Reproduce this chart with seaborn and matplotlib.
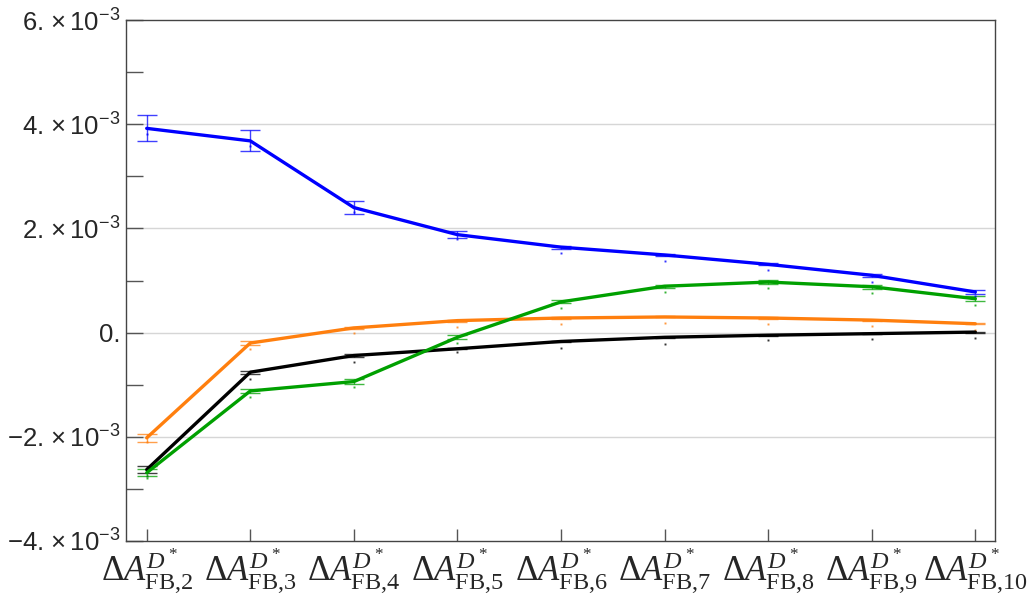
import matplotlib
matplotlib.use("Agg")
import matplotlib.pyplot as plt
import seaborn as sns
import pandas as pd
import numpy as np

# values in units of 1e-3
bins = [2, 3, 4, 5, 6, 7, 8, 9, 10]
series = ["black", "orange", "green", "blue"]

black = [-2.63, -0.76, -0.44, -0.31, -0.17, -0.09, -0.05, -0.02, 0.01]
orange = [-2.02, -0.20, 0.09, 0.23, 0.28, 0.30, 0.28, 0.24, 0.17]
green = [-2.69, -1.12, -0.94, -0.09, 0.59, 0.89, 0.97, 0.88, 0.65]
blue = [3.92, 3.68, 2.40, 1.88, 1.64, 1.49, 1.31, 1.10, 0.78]

black_err = [0.06, 0.03, 0.02, 0.01, 0.01, 0.01, 0.01, 0.01, 0.01]
orange_err = [0.08, 0.03, 0.02, 0.02, 0.01, 0.01, 0.01, 0.01, 0.01]
green_err = [0.07, 0.03, 0.04, 0.04, 0.03, 0.03, 0.04, 0.04, 0.05]
blue_err = [0.25, 0.20, 0.12, 0.07, 0.03, 0.02, 0.02, 0.03, 0.04]

# small companion points below each value
black_dot = [-2.75, -0.89, -0.56, -0.38, -0.30, -0.22, -0.15, -0.12, -0.10]
orange_dot = [-2.10, -0.31, -0.01, 0.11, 0.17, 0.19, 0.17, 0.13, 0.05]
green_dot = [-2.80, -1.24, -1.04, -0.20, 0.47, 0.78, 0.86, 0.76, 0.53]
blue_dot = [3.81, 3.58, 2.32, 1.80, 1.53, 1.38, 1.21, 0.97, 0.70]

y_ticks = [-4, -2, 0, 2, 4, 6]
y_tick_labels = [r"$\mathsf{-4.\times10^{-3}}$", r"$\mathsf{-2.\times10^{-3}}$", "0.",
                 r"$\mathsf{2.\times10^{-3}}$", r"$\mathsf{4.\times10^{-3}}$",
                 r"$\mathsf{6.\times10^{-3}}$"]
x_tick_labels = [r"$\Delta A^{D^*}_{\mathrm{FB{,}%d}}$" % b for b in bins]

colors = {"black": "#000000", "orange": "#FF7F0E", "green": "#00A000", "blue": "#0000FF"}
vals = {"black": black, "orange": orange, "green": green, "blue": blue}
errs = {"black": black_err, "orange": orange_err, "green": green_err, "blue": blue_err}
dots = {"black": black_dot, "orange": orange_dot, "green": green_dot, "blue": blue_dot}

rows = []
for s in series:
    for i, b in enumerate(bins):
        rows.append({"pos": i, "series": s, "value": vals[s][i] * 1e-3,
                     "err": errs[s][i] * 1e-3, "dot": dots[s][i] * 1e-3})
df = pd.DataFrame(rows)

sns.set_style("white")
plt.rcParams["font.family"] = ["Liberation Sans", "DejaVu Sans"]
plt.rcParams["mathtext.fontset"] = "custom"
plt.rcParams["mathtext.rm"] = "Liberation Serif"
plt.rcParams["mathtext.it"] = "Liberation Serif:italic"
plt.rcParams["mathtext.bf"] = "Liberation Serif:bold"
plt.rcParams["mathtext.sf"] = "Liberation Sans"

fig = plt.figure(figsize=(10.29, 6.01), dpi=100)
ax = fig.add_axes([126 / 1029, 60 / 601, (995 - 126) / 1029, (541 - 20) / 601])

for yv in [-2e-3, 0, 2e-3, 4e-3]:
    ax.axhline(yv, color="#d6d6d6", lw=1.0, zorder=0)

for s in series:
    d = df[df["series"] == s]
    ax.errorbar(d["pos"], d["value"], yerr=d["err"], fmt="none", ecolor=colors[s],
                elinewidth=1.0, capsize=7, capthick=1.0, alpha=0.75, zorder=2)
    ax.plot(d["pos"], d["dot"], ls="none", marker="s", ms=1.4, mew=0,
            color=colors[s], alpha=0.8, zorder=2)

sns.lineplot(data=df, x="pos", y="value", hue="series", hue_order=series,
             palette=colors, linewidth=2.4, legend=False, sort=False,
             errorbar=None, ax=ax, zorder=3)

ax.set_xlim(-0.2, 8.19)
ax.set_ylim(-4e-3, 6e-3)
ax.set_xlabel("")
ax.set_ylabel("")

ax.set_xticks(range(len(bins)))
ax.set_xticklabels(x_tick_labels, fontsize=25)

ax.set_yticks([v * 1e-3 for v in y_ticks])
ax.set_yticklabels(y_tick_labels, fontsize=18.5)
ax.set_yticks([v * 1e-3 for v in [-3, -1, 1, 3, 5]], minor=True)

ax.tick_params(axis="y", which="both", direction="in", length=12, width=1.0,
               color="#555555", left=True, right=False, pad=4)
ax.tick_params(axis="x", which="both", direction="in", length=9, width=1.0,
               color="#555555", bottom=True, top=False, pad=4)

for sp in ax.spines.values():
    sp.set_color("#444444")
    sp.set_linewidth(1.0)

fig.savefig("out.png", dpi=100)
